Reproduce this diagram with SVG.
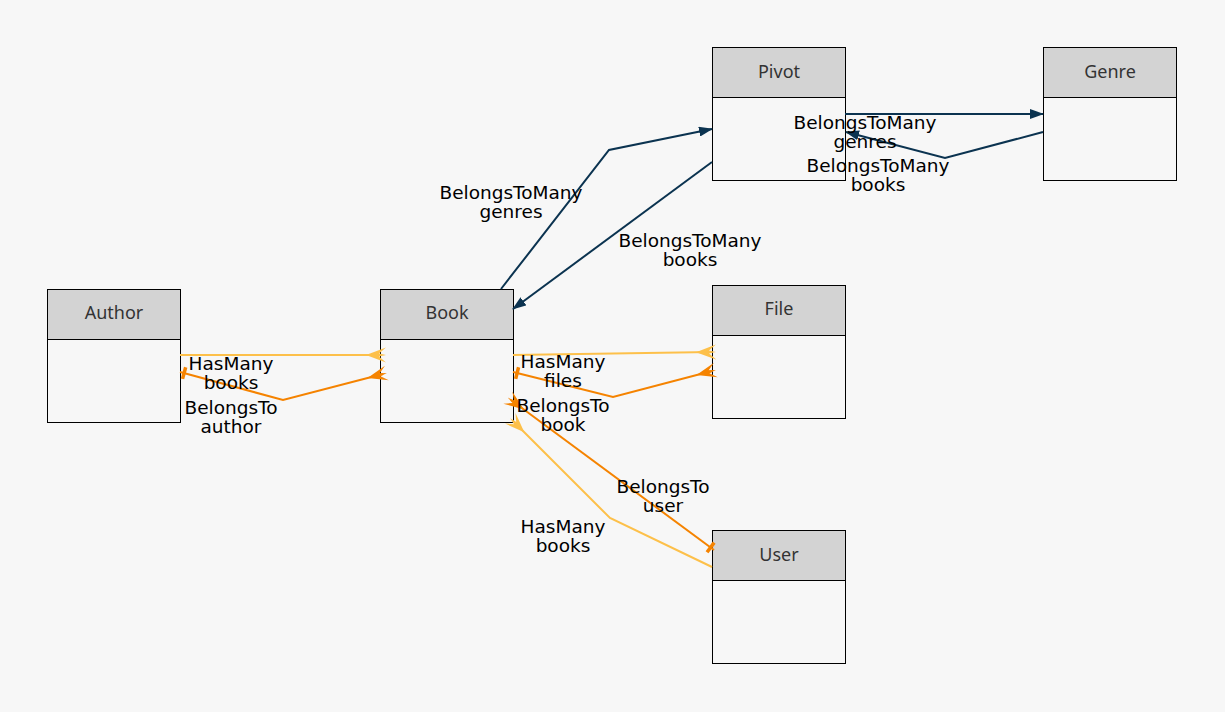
<svg xmlns="http://www.w3.org/2000/svg" width="1225" height="712" viewBox="0 0 1225 712">
<style>
.bg{fill:#f7f7f7}
.hd{fill:#d3d3d3;stroke:#000;stroke-width:1}
.bd{fill:#f7f7f7;stroke:#000;stroke-width:1}
.title{font-family:"Noto Sans","Open Sans",sans-serif;font-size:18px;fill:#333;text-anchor:middle}
.lbl{font-family:"DejaVu Sans",sans-serif;font-size:18.5px;fill:#000;text-anchor:middle}
.e{fill:none;stroke-width:2}
.lo{stroke:#fdc04a}
.do{stroke:#f58300}
.bl{stroke:#0b3350}
</style>
<defs>
<marker id="arr" markerUnits="userSpaceOnUse" viewBox="0 0 14 10" refX="13" refY="5" markerWidth="14" markerHeight="10" orient="auto"><path d="M0,0 L14,5 L0,10 z" fill="#0b3350"/></marker>
<marker id="crowL" markerUnits="userSpaceOnUse" viewBox="0 0 20 16" refX="16" refY="8" markerWidth="20" markerHeight="16" orient="auto"><path d="M0,8 L20,0.5 L13,6.5 L20,8 L13,9.5 L20,15.5 Z" fill="#fdc04a"/></marker>
<marker id="crowD" markerUnits="userSpaceOnUse" viewBox="0 0 20 16" refX="16" refY="8" markerWidth="20" markerHeight="16" orient="auto"><path d="M0,8 L20,0.5 L13,6.5 L20,8 L13,9.5 L20,15.5 Z" fill="#f58300"/></marker>
<marker id="tee" markerUnits="userSpaceOnUse" viewBox="0 0 10 14" refX="10" refY="7" markerWidth="10" markerHeight="14" orient="auto-start-reverse"><rect x="4" y="1" width="3.5" height="12" fill="#f58300"/></marker>
</defs>
<rect class="bg" x="0" y="0" width="1225" height="712"/>

<g id="node-author">
<rect class="bd" x="47.5" y="289.5" width="133" height="133"/>
<rect class="hd" x="47.5" y="289.5" width="133" height="50"/>
<text class="title" x="114" y="319">Author</text>
</g>
<g id="node-book">
<rect class="bd" x="380.5" y="289.5" width="133" height="133"/>
<rect class="hd" x="380.5" y="289.5" width="133" height="50"/>
<text class="title" x="447" y="319">Book</text>
</g>
<g id="node-pivot">
<rect class="bd" x="712.5" y="47.5" width="133" height="133"/>
<rect class="hd" x="712.5" y="47.5" width="133" height="50"/>
<text class="title" x="779" y="78">Pivot</text>
</g>
<g id="node-genre">
<rect class="bd" x="1043.5" y="47.5" width="133" height="133"/>
<rect class="hd" x="1043.5" y="47.5" width="133" height="50"/>
<text class="title" x="1110" y="78">Genre</text>
</g>
<g id="node-file">
<rect class="bd" x="712.5" y="285.5" width="133" height="133"/>
<rect class="hd" x="712.5" y="285.5" width="133" height="50"/>
<text class="title" x="779" y="315">File</text>
</g>
<g id="node-user">
<rect class="bd" x="712.5" y="530.5" width="133" height="133"/>
<rect class="hd" x="712.5" y="530.5" width="133" height="50"/>
<text class="title" x="779" y="561">User</text>
</g>

<g id="connectors">
<path class="e lo" d="M180,355 L382,355" marker-end="url(#crowL)"/>
<path class="e do" d="M180,372 L283,400 L383,374" marker-start="url(#tee)" marker-end="url(#crowD)"/>
<path class="e lo" d="M513,355 L712,352" marker-end="url(#crowL)"/>
<path class="e do" d="M513,372 L613,397 L712,371" marker-start="url(#tee)" marker-end="url(#crowD)"/>
<path class="e do" d="M714,550 L511,400" marker-start="url(#tee)" marker-end="url(#crowD)"/>
<path class="e lo" d="M712,567 L610,518 L513,421" marker-end="url(#crowL)"/>
<path class="e bl" d="M501,289 L609,150 L712,129" marker-end="url(#arr)"/>
<path class="e bl" d="M712,162 L513,309" marker-end="url(#arr)"/>
<path class="e bl" d="M845,114 L1043,114" marker-end="url(#arr)"/>
<path class="e bl" d="M1043,132 L945,158 L846,132" marker-end="url(#arr)"/>
<text class="lbl" x="511" y="199">BelongsToMany</text>
<text class="lbl" x="511" y="218">genres</text>
<text class="lbl" x="690" y="247">BelongsToMany</text>
<text class="lbl" x="690" y="266">books</text>
<text class="lbl" x="865" y="129">BelongsToMany</text>
<text class="lbl" x="865" y="148">genres</text>
<text class="lbl" x="878" y="172">BelongsToMany</text>
<text class="lbl" x="878" y="191">books</text>
<text class="lbl" x="231" y="370">HasMany</text>
<text class="lbl" x="231" y="389">books</text>
<text class="lbl" x="231" y="414">BelongsTo</text>
<text class="lbl" x="231" y="433">author</text>
<text class="lbl" x="563" y="368">HasMany</text>
<text class="lbl" x="563" y="387">files</text>
<text class="lbl" x="563" y="412">BelongsTo</text>
<text class="lbl" x="563" y="431">book</text>
<text class="lbl" x="663" y="493">BelongsTo</text>
<text class="lbl" x="663" y="512">user</text>
<text class="lbl" x="563" y="533">HasMany</text>
<text class="lbl" x="563" y="552">books</text>
</g>
</svg>
